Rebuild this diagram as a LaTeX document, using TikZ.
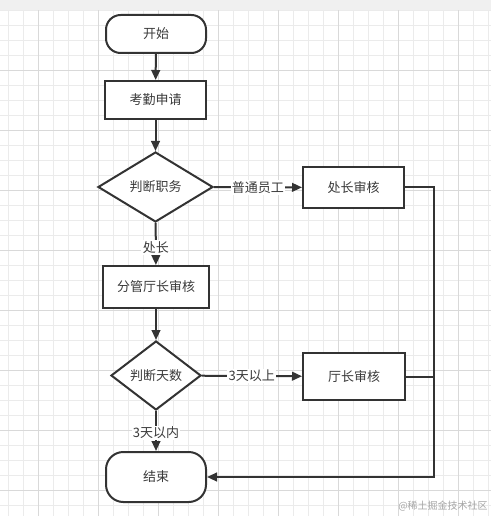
\documentclass[tikz,border=0pt]{standalone}
\usepackage{fontspec}
\newfontfamily\cjk{Noto Sans CJK SC}
\usetikzlibrary{shapes.geometric,arrows.meta}
\definecolor{ink}{HTML}{333333}
\definecolor{txt}{HTML}{3A3A3A}
\definecolor{gminor}{HTML}{EBEBEB}
\definecolor{gmajor}{HTML}{D9D9D9}
\definecolor{band}{HTML}{F0F0F0}
\tikzset{
  base/.style={draw=ink, line width=1.5pt, fill=white, text=txt, inner sep=0pt,
    font=\fontsize{9.75pt}{11pt}\selectfont\cjk},
  term/.style={base, rounded corners=11pt},
  proc/.style={base},
  deci/.style={base, diamond},
  conn/.style={draw=ink, line width=1.5pt},
  arr/.style={conn, -{Triangle[length=7.5pt,width=6.5pt]}},
  lbl/.style={fill=white, text=txt, inner sep=1pt, font=\fontsize{9.75pt}{11pt}\selectfont\cjk},
}
\begin{document}
\begin{tikzpicture}[x=0.75pt,y=-0.75pt]
\useasboundingbox (0,0) rectangle (491,516);
% background
\fill[white] (0,0) rectangle (491,516);
\foreach \gx in {8,23,...,491} \draw[gminor, line width=0.6pt] (\gx,10) -- (\gx,516);
\foreach \gy in {10,25,...,516} \draw[gminor, line width=0.6pt] (0,\gy) -- (491,\gy);
\foreach \gx in {38,98,...,491} \draw[gmajor, line width=0.6pt] (\gx,10) -- (\gx,516);
\foreach \gy in {70,130,...,516} \draw[gmajor, line width=0.6pt] (0,\gy) -- (491,\gy);
\fill[band] (0,0) rectangle (491,10);

% nodes
\node[term, minimum width=75pt, minimum height=28.5pt] (start) at (156,34) {开始};
\node[proc, minimum width=75.75pt, minimum height=28.5pt] (apply) at (155.5,100) {考勤申请};
\node[deci, minimum width=86.25pt, minimum height=52.5pt] (d1) at (155.5,187) {判断职务};
\node[proc, minimum width=75.75pt, minimum height=30.75pt] (chief) at (353.5,187.5) {处长审核};
\node[proc, minimum width=79.5pt, minimum height=31.5pt] (deputy) at (156,287) {分管厅长审核};
\node[deci, minimum width=67.5pt, minimum height=51.75pt] (d2) at (156,375.5) {判断天数};
\node[proc, minimum width=76.5pt, minimum height=35.25pt] (head) at (354,376.5) {厅长审核};
\node[term, minimum width=75pt, minimum height=37.5pt, rounded corners=13pt] (end) at (156,477) {结束};
\coordinate (j1) at (434,187.5);
\coordinate (j2) at (434,477);

% connectors
\draw[arr] (start) -- (apply);
\draw[arr] (apply) -- (d1);
\draw[arr] (d1) -- node[lbl] {普通员工} (chief);
\draw[arr] (d1) -- node[lbl, pos=0.58] {处长} (deputy);
\draw[arr] (deputy) -- (d2);
\draw[arr] (d2) -- node[lbl] {3天以上} (head);
\draw[arr] (d2) -- node[lbl, pos=0.55] {3天以内} (end);
\draw[arr] (chief.east) -- (j1) -- (j2) -- (end.east);
\draw[conn] (head.east) -- (head.east -| j1);

% watermark
\node[anchor=east, text=black!35, inner sep=0pt, font=\fontsize{7.5pt}{9pt}\selectfont\cjk] (wm) at (488,506) {@稀土掘金技术社区};
\end{tikzpicture}
\end{document}
